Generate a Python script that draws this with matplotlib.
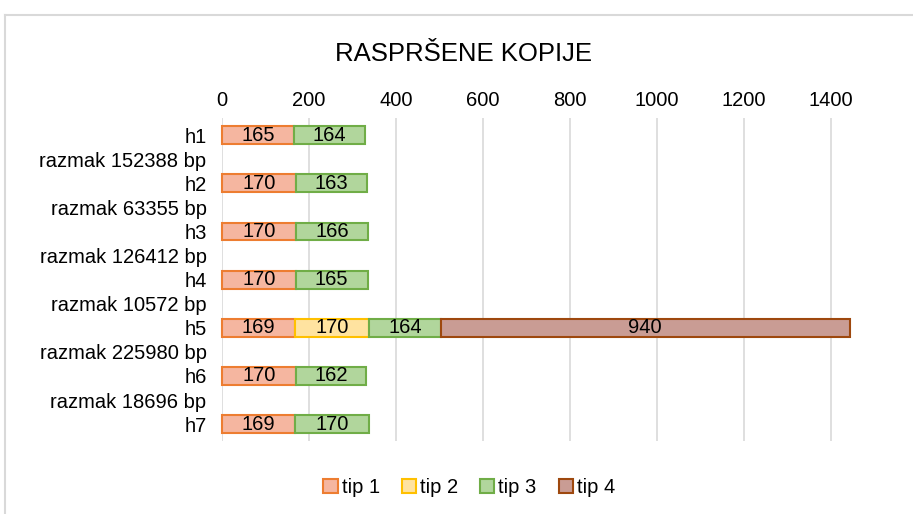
import numpy as np
import matplotlib.pyplot as plt

plt.rcParams['font.family'] = ['Liberation Sans', 'DejaVu Sans']

# redovi odozgo prema dolje
labels = ['h1', 'razmak 152388 bp', 'h2', 'razmak 63355 bp', 'h3',
          'razmak 126412 bp', 'h4', 'razmak 10572 bp', 'h5',
          'razmak 225980 bp', 'h6', 'razmak 18696 bp', 'h7']
tip1 = [165, 0, 170, 0, 170, 0, 170, 0, 169, 0, 170, 0, 169]
tip2 = [0, 0, 0, 0, 0, 0, 0, 0, 170, 0, 0, 0, 0]
tip3 = [164, 0, 163, 0, 166, 0, 165, 0, 164, 0, 162, 0, 170]
tip4 = [0, 0, 0, 0, 0, 0, 0, 0, 940, 0, 0, 0, 0]
series = [('tip 1', tip1), ('tip 2', tip2), ('tip 3', tip3), ('tip 4', tip4)]

fills = ['#F5B6A0', '#FFE3A0', '#B1D69C', '#C99C94']
edges = ['#ED7D31', '#FFC000', '#70AD47', '#9E480E']

fig = plt.figure(figsize=(9.13, 5.14), dpi=100)
ax = fig.add_axes([0.243, 0.142, 0.691, 0.628])

y = np.arange(len(labels))
left = np.zeros(len(labels))
for (name, vals), fc, ec in zip(series, fills, edges):
    vals = np.array(vals, dtype=float)
    nz = vals > 0
    bars = ax.barh(y[nz], vals[nz], left=left[nz], height=0.74, color=fc,
                   edgecolor=ec, linewidth=1.5, label=name, zorder=3,
                   clip_on=False)
    for b, v in zip(bars, vals[nz]):
        ax.text(b.get_x() + b.get_width() / 2, b.get_y() + b.get_height() / 2,
                f'{int(v)}', ha='center', va='center', fontsize=14.5,
                color='#000000', zorder=4)
    left += vals

ax.set_xlim(0, 1450)
ax.set_ylim(12.7, -0.7)
ax.set_xticks(range(0, 1401, 200))
ax.set_yticks(y)
ax.set_yticklabels(labels)
ax.xaxis.tick_top()
ax.tick_params(axis='both', length=0, labelsize=14.5, colors='#000000')
ax.tick_params(axis='x', pad=6)
ax.tick_params(axis='y', pad=11)
ax.grid(axis='x', color='#D9D9D9', linewidth=1.2, zorder=0)
for s in ax.spines.values():
    s.set_visible(False)

fig.text(0.508, 0.895, 'RASPRŠENE KOPIJE', ha='center', va='center',
         fontsize=18.5, color='#000000')

fig.legend(loc='center', bbox_to_anchor=(0.514, 0.052), ncol=4, frameon=False,
           fontsize=14.5, handlelength=0.7, handleheight=0.7,
           handletextpad=0.2, columnspacing=1.1)

# okvir grafikona
fig.add_artist(plt.Line2D([0.006, 1.0], [0.971, 0.971], color='#D9D9D9', lw=1.5))
fig.add_artist(plt.Line2D([0.006, 0.006], [0.0, 0.971], color='#D9D9D9', lw=1.5))

fig.savefig('out.png', dpi=100)
